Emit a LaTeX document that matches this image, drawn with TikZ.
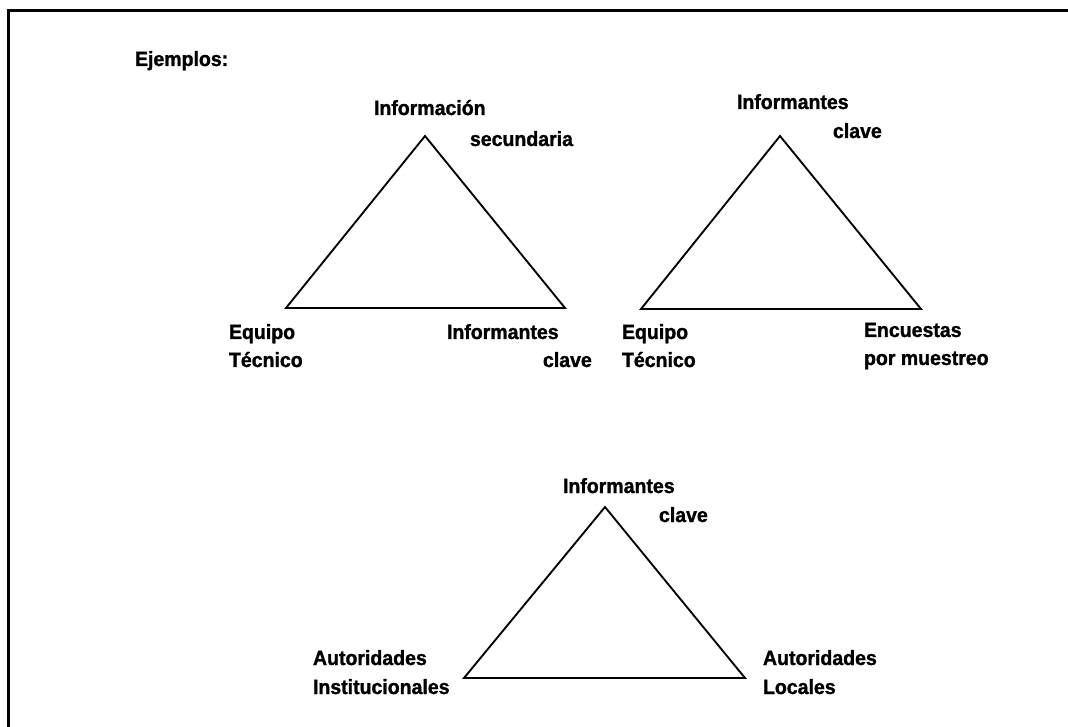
\documentclass[tikz,border=0pt]{standalone}
\usepackage{fontspec}
\setmainfont{Liberation Sans}[FakeStretch=0.95,BoldFeatures={FakeBold=1.3}]
\begin{document}
\begin{tikzpicture}[x=0.75pt,y=-0.75pt,
  lbl/.style={anchor=base west,inner sep=0pt,outer sep=0pt,
    font=\fontsize{15.4pt}{18pt}\selectfont\bfseries},
  tri/.style={draw=black,line width=1.4pt,line join=miter},
  frame/.style={draw=black,line width=1.8pt}]
\useasboundingbox (0,0) rectangle (1068,727);

% frame: top and left edges
\coordinate (fbl) at (8.5,727);
\coordinate (ftl) at (8.5,10.5);
\coordinate (ftr) at (1068,10.5);
\draw[frame] (fbl) -- (ftl) -- (ftr);

\node[lbl] (title) at (135,66) {Ejemplos:};

% first triangle
\coordinate (a1) at (425,136);
\coordinate (b1) at (286,308);
\coordinate (c1) at (565,308);
\draw[tri] (a1) -- (b1) -- (c1) -- cycle;
\node[lbl] (a1l1) at (374,115) {Información};
\node[lbl] (a1l2) at (470,146) {secundaria};
\node[lbl] (b1l1) at (229,339) {Equipo};
\node[lbl] (b1l2) at (229,367) {Técnico};
\node[lbl] (c1l1) at (447,339) {Informantes};
\node[lbl] (c1l2) at (543,367) {clave};

% second triangle
\coordinate (a2) at (780,136);
\coordinate (b2) at (641,309);
\coordinate (c2) at (921,309);
\draw[tri] (a2) -- (b2) -- (c2) -- cycle;
\node[lbl] (a2l1) at (737,109) {Informantes};
\node[lbl] (a2l2) at (833,138) {clave};
\node[lbl] (b2l1) at (622,339) {Equipo};
\node[lbl] (b2l2) at (622,367) {Técnico};
\node[lbl] (c2l1) at (864,337) {Encuestas};
\node[lbl] (c2l2) at (864,365) {por muestreo};

% third triangle
\coordinate (a3) at (605,507);
\coordinate (b3) at (464,678);
\coordinate (c3) at (745,678);
\draw[tri] (a3) -- (b3) -- (c3) -- cycle;
\node[lbl] (a3l1) at (563,493) {Informantes};
\node[lbl] (a3l2) at (659,522) {clave};
\node[lbl] (b3l1) at (313,665) {Autoridades};
\node[lbl] (b3l2) at (313,694) {Institucionales};
\node[lbl] (c3l1) at (763,665) {Autoridades};
\node[lbl] (c3l2) at (763,694) {Locales};
\end{tikzpicture}
\end{document}
